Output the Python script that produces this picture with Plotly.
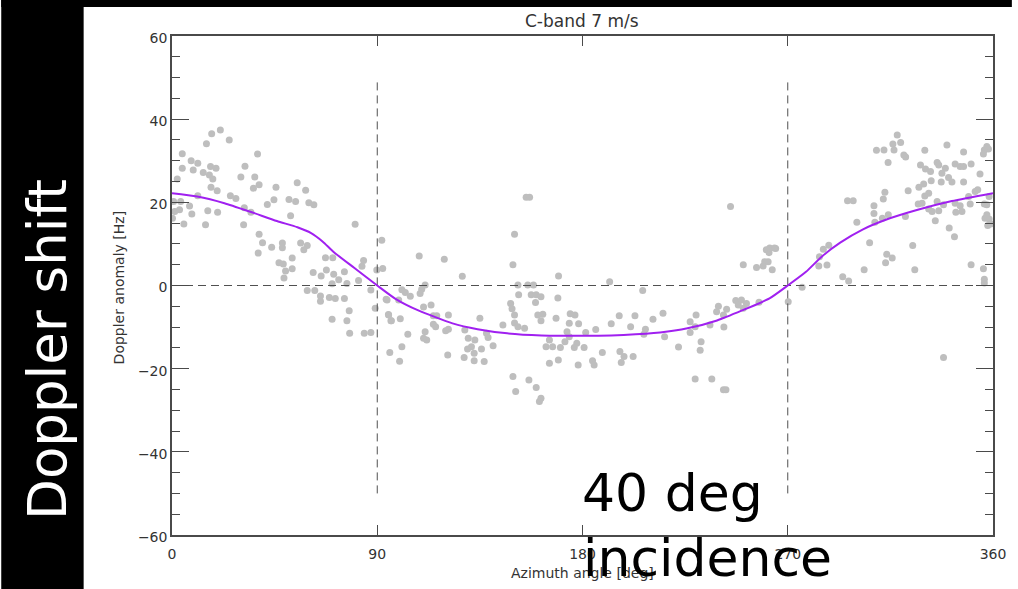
import plotly.graph_objects as go

# ---- data ----
obs_az = [
    21.2, 17.4, 25.1, 15.1, 4.5, 37.5, 8.4, 11.3, 4.5, 9.3, 16.9, 19.3, 13.7, 32.0, 16.4, 2.3, 30.2, 36.3, 17.9, 38.2,
    35.7, 17.1, 19.8, 45.6, 54.9, 58.6, 25.6, 28.0, 11.3, 0.7, 3.8, 44.7, 51.3, 54.2, 60.0, 62.2, 41.8, 7.7, 1.2, 3.3,
    8.7, 15.7, 20.0, 31.7, 34.6, 52.0, 0.2, 5.2, 14.7, 31.4, 80.3, 38.2, 39.7, 48.4, 56.4, 59.3, 57.8, 43.7, 48.4, 37.8,
    92.0, 52.7, 67.3, 70.5, 46.9, 48.8, 84.0, 83.3, 49.8, 52.7, 61.9, 67.7, 65.4, 70.9, 75.6, 49.1, 70.2, 73.1, 76.7, 81.8,
    89.8, 92.4, 59.3, 62.6, 65.1, 65.1, 69.0, 71.6, 75.6, 87.2, 93.9, 89.1, 77.7, 70.2, 76.7, 94.9, 96.0, 77.9, 84.3, 87.2,
    95.5, 99.8, 100.8, 103.4, 111.7, 111.0, 120.9, 128.1, 132.5, 136.9, 149.5, 156.5, 150.7, 159.7, 161.1, 161.8,
    155.3, 156.8, 150.2, 108.4, 119.4, 149.5, 169.5, 127.3, 151.7, 156.0, 158.5, 109.5, 111.0, 100.8, 102.3, 104.5,
    152.0, 157.5, 159.7, 161.8, 169.2, 159.4, 148.5, 94.3, 99.4, 113.6, 110.3, 149.1, 150.2, 160.4, 162.6, 161.8,
    168.4, 95.0, 96.2, 100.1, 114.6, 116.1, 121.2, 135.0, 145.1, 150.2, 151.7, 154.6, 114.6, 115.6, 121.2, 120.0,
    128.4, 137.9, 138.6, 140.8, 129.9, 132.8, 135.7, 131.3, 129.6, 132.5, 110.3, 173.2, 174.2, 177.5, 181.4, 185.8,
    176.4, 180.7, 164.0, 166.9, 170.3, 165.5, 172.3, 174.2, 176.7, 178.3, 174.6, 165.5, 169.4, 178.1, 184.4, 185.1, 108.8,
    244.9, 260.6, 261.8, 264.7, 259.9, 261.4, 250.5, 256.3, 263.2, 191.9, 206.4, 276.3, 270.2, 257.4, 247.2, 249.7,
    251.9, 250.5, 248.3, 239.6, 238.8, 243.2, 241.8, 235.9, 229.8, 227.2, 229.4, 242.0, 215.3, 210.9, 207.6, 206.9,
    216.0, 227.2, 232.0, 231.6, 222.1, 203.0, 201.1, 196.1, 192.6, 188.7, 196.4, 198.2, 197.0, 202.2, 229.4, 236.7,
    241.8, 242.9, 262.1, 264.2, 259.2,
    318.0, 316.1, 319.5, 308.9, 312.2, 316.6, 320.9, 321.7, 314.0, 330.1, 339.8, 347.1, 356.2, 358.0, 355.8, 328.2,
    330.4, 332.6, 335.5, 336.2, 339.1, 337.6, 340.5, 337.3, 342.0, 343.4, 345.6, 347.1, 350.4, 354.3, 347.1, 332.9,
    329.6, 327.5, 331.8, 330.1, 322.8, 312.6, 311.9, 296.2, 298.7, 307.8, 307.8, 308.2, 311.5, 314.1, 300.3, 321.6,
    327.2, 328.9, 331.8, 333.3, 335.5, 338.3, 336.2, 334.7, 343.4, 345.6, 346.4, 343.7, 350.0, 349.3, 352.2, 353.3,
    356.2, 357.3, 358.3, 356.5, 358.3, 359.1, 357.7, 357.3, 340.8, 343.1, 350.4, 355.8, 356.2, 356.2, 324.8, 325.7,
    305.9, 313.4, 315.8, 312.9, 303.5, 294.1, 296.7, 285.6, 288.0, 283.9, 287.2, 283.6, 338.3, 357.3,
]
obs_dop = [
    37.4, 36.5, 35.0, 34.1, 31.7, 31.6, 30.0, 29.4, 28.2, 27.8, 28.6, 28.2, 27.2, 28.7, 26.6, 25.6, 26.1, 26.1, 25.6, 24.2,
    23.4, 23.6, 22.8, 23.6, 24.7, 22.9, 21.6, 20.9, 21.6, 20.2, 20.2, 20.6, 20.7, 20.2, 19.9, 19.4, 19.5, 19.1, 17.8, 18.2,
    17.2, 18.0, 17.6, 18.7, 17.6, 16.8, 16.2, 14.8, 14.6, 14.6, 14.7, 12.3, 10.3, 10.2, 10.2, 9.6, 8.6, 9.2, 9.1, 7.8,
    10.9, 6.6, 6.7, 6.7, 5.5, 5.2, 6.0, 4.6, 3.5, 4.0, 3.1, 3.7, 2.3, 2.7, 3.3, 1.8, 0.4, 1.4, 0.5, 1.2,
    3.7, 4.1, -1.2, -1.2, -2.5, -3.8, -2.9, -3.1, -3.1, -1.1, -3.3, -5.5, -6.1, -8.1, -8.5, -7.0, -8.5, -11.5, -11.5, -11.3,
    -16.1, -18.2, -14.7, -11.7, -13.1, -11.1, -16.7, -17.3, -18.1, -18.3, -21.9, -22.7, -25.5, -24.5, -27.9, -27.1,
    21.2, 21.2, 12.3, 7.1, 6.3, 5.0, 2.3, 2.2, 0.1, 0.1, 0.1, -0.9, 0.1, -1.0, -1.7, -2.6,
    -2.2, -2.2, -2.2, -2.7, -3.0, -4.1, -4.3, -3.5, -3.5, -4.7, -5.2, -5.6, -7.1, -7.1, -6.9, -8.5,
    -7.9, -7.1, -8.5, -8.0, -7.3, -7.3, -7.1, -7.9, -9.5, -9.0, -9.9, -10.3, -9.3, -9.9, -10.5, -10.9,
    -10.7, -11.5, -12.5, -14.5, -12.7, -13.1, -15.3, -14.7, -15.3, -16.3, -12.7, -11.1, -12.3, -13.9, -11.3, -10.6,
    -14.9, -14.9, -14.7, -14.7, -14.9, -13.1, -13.5, -9.1, -7.1, -9.2, -6.8, -18.7, -17.9, -19.1, -18.1, -19.1, -1.9,
    19.0, 8.6, 7.9, 8.9, 5.7, 5.7, 5.0, 4.3, 3.8, 0.9, -1.2, -0.4, -3.9, -4.0, -3.6, -3.5,
    -4.3, -5.5, -4.7, -5.0, -6.3, -5.7, -7.1, -9.5, -7.1, -8.7, -9.9, -10.0, -6.7, -8.1, -10.5, -11.7,
    -12.3, -11.3, -13.5, -15.6, -14.8, -7.3, -9.9, -7.3, -9.2, -16.1, -15.9, -17.1, -18.5, -17.1, -22.5, -22.5,
    -25.1, -25.1, 9.0, 9.0, 4.7,
    36.2, 34.0, 34.4, 32.5, 32.6, 32.6, 31.4, 30.9, 29.6, 32.5, 33.8, 32.1, 32.6, 32.8, 31.6, 29.0,
    28.0, 27.4, 29.6, 29.0, 28.2, 27.0, 26.0, 24.9, 24.9, 29.2, 28.6, 28.6, 29.2, 26.8, 24.9, 25.2,
    24.4, 23.6, 22.2, 21.5, 22.8, 22.4, 20.8, 20.4, 20.4, 19.2, 17.3, 15.2, 16.2, 17.0, 15.2, 16.6,
    19.6, 19.8, 18.4, 17.8, 20.2, 19.4, 18.0, 15.6, 19.8, 19.2, 17.8, 17.6, 19.6, 21.4, 22.6, 23.0,
    19.6, 19.4, 21.4, 16.2, 16.0, 14.8, 14.4, 17.0, 13.8, 11.7, 5.0, 4.0, 1.5, 0.6, 9.6, 3.8,
    10.3, 7.5, 6.6, 5.5, 3.8, 2.1, 1.1, 8.7, 9.7, 6.9, 4.9, 4.7, -17.3, 33.4,
]

model_az = [0, 11, 23, 35, 46, 55, 61, 66, 71, 80, 90, 98, 108, 123, 134, 147, 162, 178, 187, 198, 214,
            226, 239, 250, 262, 270, 278, 285, 293, 303, 313, 327, 342, 360]
model_dop = [22.2, 21.4, 19.8, 17.6, 15.5, 14.0, 12.6, 10.6, 8.0, 4.2, 0.0, -3.2, -6.0, -9.1, -10.5, -11.5, -12.0,
             -12.1, -12.1, -11.9, -11.3, -10.3, -8.4, -6.0, -3.1, 0.0, 3.3, 7.0, 10.3, 13.5, 15.8, 18.2, 20.3, 22.2]

zero_line_x = [0, 360]
zero_line_y = [0, 0]
marker_az = [90, 270]
marker_span = [-50, 50]

x_ticks = [0, 90, 180, 270, 360]
y_ticks = [-60, -40, -20, 0, 20, 40, 60]

# ---- figure geometry ----
W, H = 1018, 589
L, R, T, B = 172, 999, 36, 535
PW, PH = R - L, B - T


def px(xp):
    return (xp - L) / PW


def py(yp):
    return (B - yp) / PH


FONT = "DejaVu Sans"
AX = "#4a4a4a"
TXT = "#333333"

fig = go.Figure()

fig.add_trace(go.Scatter(
    x=obs_az, y=obs_dop, mode="markers",
    marker=dict(color="#bebebe", size=7, line=dict(width=0)),
    showlegend=False, hoverinfo="skip"))

fig.add_trace(go.Scatter(
    x=zero_line_x, y=zero_line_y, mode="lines",
    line=dict(color="#505050", width=1, dash="8px,5px"),
    showlegend=False, hoverinfo="skip"))
for a in marker_az:
    fig.add_trace(go.Scatter(
        x=[a, a], y=marker_span, mode="lines",
        line=dict(color="#505050", width=1, dash="8px,5px"),
        showlegend=False, hoverinfo="skip"))

fig.add_trace(go.Scatter(
    x=model_az, y=model_dop, mode="lines",
    line=dict(color="#a020f0", width=2, shape="spline", smoothing=0.6),
    showlegend=False, hoverinfo="skip"))

fig.update_xaxes(
    range=[0, 360], tickvals=x_ticks, ticktext=[str(v) for v in x_ticks],
    ticks="inside", ticklen=10, tickwidth=1, tickcolor=AX,
    showline=True, linecolor=AX, linewidth=1.5, mirror="allticks",
    showgrid=False, zeroline=False, ticklabelstandoff=5,
    tickfont=dict(family=FONT, size=14, color=TXT))
fig.update_yaxes(
    range=[-60, 60], tickvals=y_ticks,
    ticks="inside", ticklen=17, tickwidth=1, tickcolor=AX,
    minor=dict(dtick=5, ticks="inside", ticklen=8, tickcolor=AX, tickwidth=1, showgrid=False),
    showline=True, linecolor=AX, linewidth=1.5, mirror="allticks",
    showgrid=False, zeroline=False, ticklabelshift=2,
    tickfont=dict(family=FONT, size=14, color=TXT))

shapes = [
    dict(type="rect", xref="paper", yref="paper", x0=px(0), x1=px(83), y0=py(H), y1=py(0),
         fillcolor="black", line=dict(width=0), layer="above"),
    dict(type="rect", xref="paper", yref="paper", x0=px(0), x1=px(W), y0=py(7), y1=py(0),
         fillcolor="black", line=dict(width=0), layer="above"),
]

annotations = [
    dict(text="C-band 7 m/s", xref="paper", yref="paper", x=px(585), y=py(21),
         xanchor="center", yanchor="middle", showarrow=False,
         font=dict(family=FONT, size=17, color=TXT)),
    dict(text="Azimuth angle [deg]", xref="paper", yref="paper", x=px(585), y=py(573),
         xanchor="center", yanchor="middle", showarrow=False,
         font=dict(family=FONT, size=14, color=TXT)),
    dict(text="Doppler anomaly [Hz]", xref="paper", yref="paper", x=px(119), y=py(287),
         xanchor="center", yanchor="middle", showarrow=False, textangle=-90,
         font=dict(family=FONT, size=14, color=TXT)),
    dict(text="Doppler shift", xref="paper", yref="paper", x=px(46), y=py(349),
         xanchor="center", yanchor="middle", showarrow=False, textangle=-90,
         font=dict(family=FONT, size=53, color="white")),
    dict(text="40 deg", xref="paper", yref="paper", x=px(583), y=py(493),
         xanchor="left", yanchor="middle", showarrow=False,
         font=dict(family=FONT, size=52, color="black")),
    dict(text="incidence", xref="paper", yref="paper", x=px(584), y=py(558),
         xanchor="left", yanchor="middle", showarrow=False,
         font=dict(family=FONT, size=52, color="black")),
]

fig.update_layout(
    width=W, height=H, autosize=False,
    margin=dict(l=L, r=W - R, t=T, b=H - B, pad=0),
    paper_bgcolor="white", plot_bgcolor="white",
    shapes=shapes, annotations=annotations,
    font=dict(family=FONT, color=TXT),
)

fig.write_html(
    "out.html",
    config={"displayModeBar": False},
    post_script="document.body.style.margin='0';document.body.style.overflow='hidden';",
)
